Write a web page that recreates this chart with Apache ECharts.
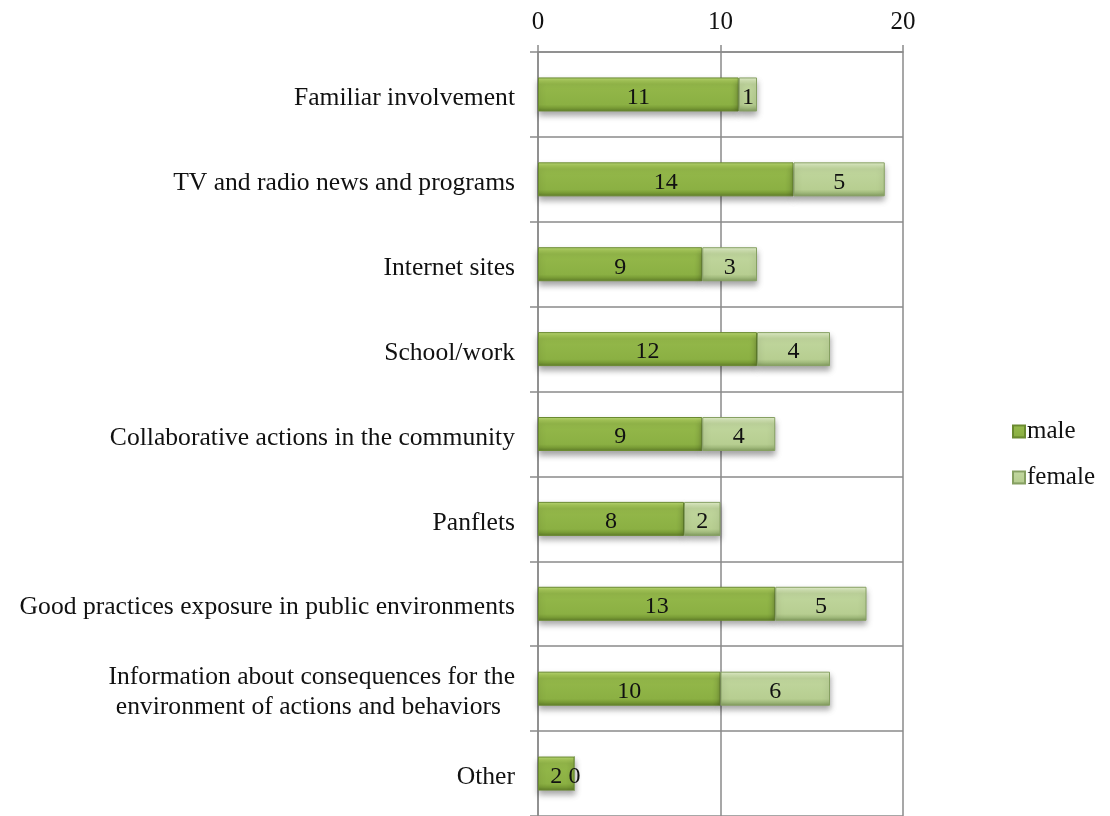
<!DOCTYPE html>
<html>
<head>
<meta charset="utf-8">
<script src="https://cdn.jsdelivr.net/npm/echarts@6/dist/echarts.min.js"></script>
<style>
  html, body { margin: 0; padding: 0; background: #ffffff; }
  #chart { width: 1110px; height: 816px; }
</style>
</head>
<body>
<div id="chart"></div>
<script>
// Information sources, counted by respondent gender
const categories = [
  'Familiar involvement',
  'TV and radio news and programs',
  'Internet sites',
  'School/work',
  'Collaborative actions in the community',
  'Panflets',
  'Good practices exposure in public environments',
  'Information about consequences for the\nenvironment of actions and behaviors',
  'Other'
];
const maleValues = [11, 14, 9, 12, 9, 8, 13, 10, 2];
const femaleValues = [1, 5, 3, 4, 4, 2, 5, 6, 0];
const axisTicks = [0, 10, 20];

const FONT = '"Liberation Serif", "DejaVu Serif", serif';
const GRID_COLOR = '#8a8a8a';

// bevel-like vertical shading for each bar
function bevel(stops) {
  return {
    type: 'linear', x: 0, y: 0, x2: 0, y2: 1,
    colorStops: stops.map(([offset, color]) => ({ offset, color }))
  };
}
const maleFill = bevel([[0, '#bad976'], [0.1, '#a4c657'], [0.2, '#94b84a'], [0.8, '#8bb043'], [0.9, '#799c36'], [1, '#5e7b29']]);
const femaleFill = bevel([[0, '#e4f0ce'], [0.1, '#d0e2b1'], [0.2, '#c0d69d'], [0.8, '#b7ce91'], [0.9, '#a0b97b'], [1, '#7f985c']]);

function catLabel(value) {
  const parts = value.split('\n');
  if (parts.length === 1) return '{a|' + value + '}';
  return '{a|' + parts[0] + '}\n{b|' + parts[1] + '}';
}

const chart = echarts.init(document.getElementById('chart'), null, { renderer: 'canvas' });

chart.setOption({
  backgroundColor: '#ffffff',
  animation: false,
  textStyle: { fontFamily: FONT, color: '#111' },
  grid: { left: 538, right: 207, top: 52, bottom: -1, containLabel: false },
  legend: {
    orient: 'vertical',
    left: 1007,
    top: 414,
    itemWidth: 12,
    itemHeight: 12,
    itemGap: 21,
    icon: 'rect',
    textStyle: { fontFamily: FONT, fontSize: 25, color: '#111', padding: [0, 0, 0, -3] },
    data: ['male', 'female']
  },
  xAxis: {
    type: 'value',
    position: 'top',
    min: axisTicks[0],
    max: axisTicks[axisTicks.length - 1],
    interval: axisTicks[1] - axisTicks[0],
    axisLine: { show: true, lineStyle: { color: GRID_COLOR, width: 1.5 } },
    axisTick: { show: true, length: 7, lineStyle: { color: GRID_COLOR, width: 1.5 } },
    splitLine: { show: true, lineStyle: { color: GRID_COLOR, width: 1.5 } },
    axisLabel: { fontFamily: FONT, fontSize: 25, color: '#111', margin: 17 }
  },
  yAxis: {
    type: 'category',
    inverse: true,
    data: categories,
    axisLine: { show: true, lineStyle: { color: GRID_COLOR, width: 1.5 } },
    axisTick: { show: true, length: 8, alignWithLabel: false, lineStyle: { color: GRID_COLOR, width: 1.5 } },
    splitLine: { show: true, lineStyle: { color: GRID_COLOR, width: 1.5 } },
    axisLabel: {
      margin: 23,
      padding: [8, 0, 0, 0],
      formatter: catLabel,
      rich: {
        a: { fontFamily: FONT, fontSize: 25.6, color: '#111', lineHeight: 30 },
        b: { fontFamily: FONT, fontSize: 25.6, color: '#111', lineHeight: 30, padding: [0, 14, 0, 0] }
      }
    }
  },
  series: [
    {
      name: 'male',
      type: 'bar',
      stack: 'total',
      barWidth: 34,
      data: maleValues,
      itemStyle: {
        color: maleFill,
        borderColor: '#6a8a30',
        borderWidth: 1,
        shadowColor: 'rgba(0,0,0,0.35)',
        shadowBlur: 6,
        shadowOffsetY: 4
      },
      label: { show: true, position: 'inside', offset: [0, 3], fontFamily: FONT, fontSize: 24, color: '#111' }
    },
    {
      name: 'female',
      type: 'bar',
      stack: 'total',
      barWidth: 34,
      data: femaleValues,
      itemStyle: {
        color: femaleFill,
        borderColor: '#86a062',
        borderWidth: 1,
        shadowColor: 'rgba(0,0,0,0.35)',
        shadowBlur: 6,
        shadowOffsetY: 4
      },
      label: { show: true, position: 'inside', offset: [0, 3], fontFamily: FONT, fontSize: 24, color: '#111' }
    }
  ]
});
</script>
</body>
</html>
